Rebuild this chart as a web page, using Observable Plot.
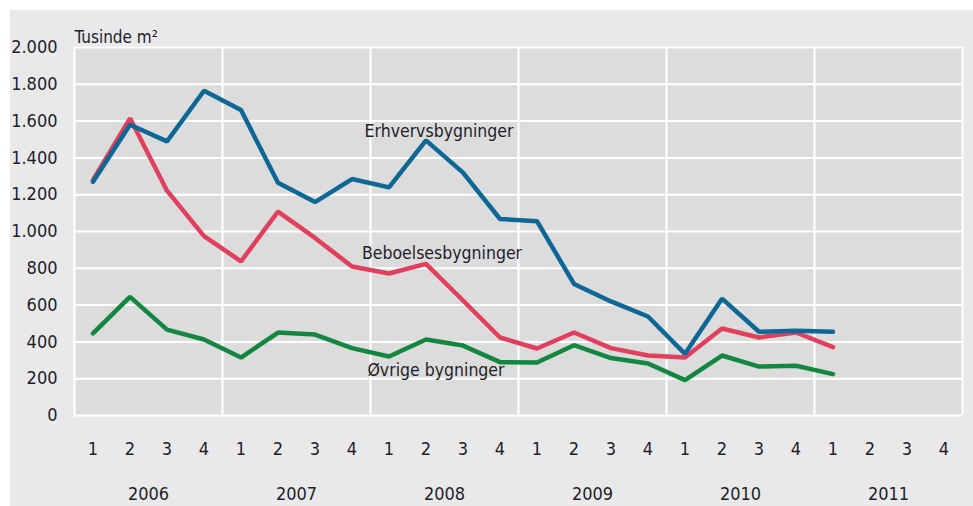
<!DOCTYPE html>
<html>
<head>
<meta charset="utf-8">
<script src="https://cdn.jsdelivr.net/npm/d3@7"></script>
<script src="https://cdn.jsdelivr.net/npm/@observablehq/plot@0.6"></script>
<style>
  html, body { margin: 0; padding: 0; background: #ffffff; }
  #wrap { position: relative; width: 973px; height: 506px; overflow: hidden; }
  #panel { position: absolute; left: 10px; top: 10px; width: 963px; height: 496px; background: #e9e9e9; }
  #chart { position: absolute; left: 0; top: 0; }
</style>
</head>
<body>
<div id="wrap"><div id="panel"></div><div id="chart"></div></div>
<script>
const years = [2006, 2007, 2008, 2009, 2010, 2011];
const quarterLabels = ["1", "2", "3", "4"];
const yTicks = [0, 200, 400, 600, 800, 1000, 1200, 1400, 1600, 1800, 2000];
const yTickLabels = ["0", "200", "400", "600", "800", "1.000", "1.200", "1.400", "1.600", "1.800", "2.000"];

// Tusinde m², quarterly from 2006 Q1 to 2011 Q1
const erhverv  = [1270, 1580, 1490, 1765, 1660, 1265, 1160, 1285, 1240, 1495, 1320, 1068, 1056, 715, 620, 538, 335, 635, 455, 460, 455];
const beboelse = [1280, 1615, 1222, 975, 838, 1108, 965, 810, 772, 824, 625, 424, 364, 451, 366, 326, 315, 473, 424, 451, 372];
const ovrige   = [446, 645, 467, 413, 315, 451, 440, 366, 321, 413, 380, 290, 288, 382, 312, 283, 192, 326, 266, 270, 225];

const seriesNames = ["Erhvervsbygninger", "Beboelsesbygninger", "Øvrige bygninger"];
const seriesColors = ["#0e6795", "#e0405e", "#138640"];
const seriesValues = [erhverv, beboelse, ovrige];
// label anchor: quarter index and value (data units)
const labelIdx = [9, 9, 9];
const labelVal = [1545, 880, 245];
const labelDx = [13, 16, 10];

const nQ = years.length * 4;
const quarterIdx = d3.range(nQ);
const rows = [];
seriesValues.forEach((vals, s) => vals.forEach((v, i) => rows.push({series: seriesNames[s], i, v})));
const yearCenters = years.map((y, k) => k * 4 + 1.5);
const yearBounds = d3.range(years.length + 1).map(k => k * 4 - 0.5);

const font = "'DejaVu Sans Condensed', 'Liberation Sans Narrow', sans-serif";
const ink = "#1e1e2a";

const lineMarks = [2, 1, 0].map(s =>
  Plot.line(rows.filter(d => d.series === seriesNames[s]), {x: "i", y: "v", stroke: "series", strokeWidth: 4.5, strokeLinejoin: "miter", strokeLinecap: "round"})
);
const labelMarks = seriesNames.map((n, s) =>
  Plot.text([{n, i: labelIdx[s], v: labelVal[s]}], {x: "i", y: "v", text: "n", dx: labelDx[s], fontSize: 17.5, fill: ink})
);

const plot = Plot.plot({
  width: 973,
  height: 506,
  marginLeft: 74,
  marginRight: 11,
  marginTop: 47,
  marginBottom: 91,
  style: {background: "transparent", fontFamily: font, fontSize: "18px", color: ink},
  x: {domain: [-0.5, nQ - 0.5], axis: null},
  y: {domain: [0, 2000], axis: null},
  color: {domain: seriesNames, range: seriesColors},
  marks: [
    Plot.frame({fill: "#dcdcdc", stroke: null}),
    Plot.ruleY(yTicks, {stroke: "#ffffff", strokeWidth: 2}),
    Plot.ruleX(yearBounds, {stroke: "#ffffff", strokeWidth: 2}),
    Plot.axisY({ticks: yTicks, tickFormat: (d) => yTickLabels[yTicks.indexOf(d)], tickSize: 0, tickPadding: 17, label: null, fontSize: 18}),
    Plot.axisX({ticks: quarterIdx, tickFormat: (d) => quarterLabels[d % 4], tickSize: 0, tickPadding: 27, label: null, fontSize: 18}),
    Plot.axisX({ticks: yearCenters, tickFormat: (d) => String(years[Math.round((d - 1.5) / 4)]), tickSize: 0, tickPadding: 72, label: null, fontSize: 18}),
    Plot.text(["Tusinde m²"], {text: d => d, frameAnchor: "top-left", textAnchor: "start", dy: -17, fontSize: 17}),
    ...lineMarks,
    ...labelMarks
  ]
});
document.getElementById("chart").appendChild(plot);
</script>
</body>
</html>
